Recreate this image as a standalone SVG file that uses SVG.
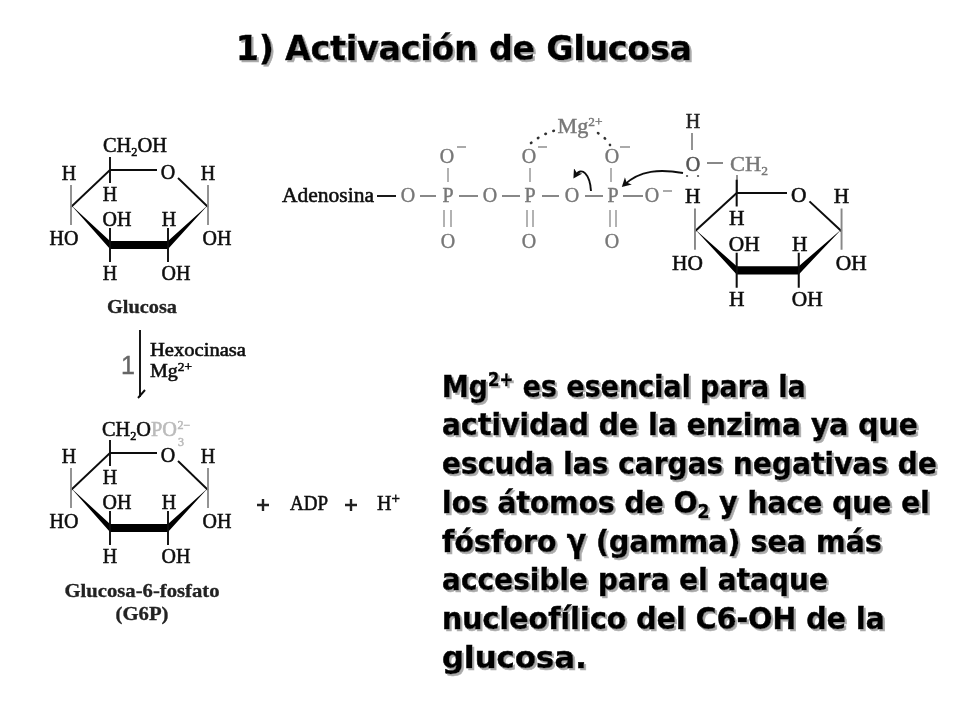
<svg xmlns="http://www.w3.org/2000/svg" xmlns:xlink="http://www.w3.org/1999/xlink" width="960" height="720" viewBox="0 0 960 720">
<style>
.chem{font-family:"Liberation Serif","Times New Roman",serif;font-size:20px;fill:#111;stroke:#111;stroke-width:.55;text-anchor:middle}
.g{fill:#777;stroke:#777;stroke-width:.4}
.lbl{font-family:"Liberation Serif",serif;font-weight:bold;font-size:19px;fill:#222;stroke:#222;stroke-width:.3;text-anchor:middle}
.big{font-family:"DejaVu Sans Condensed","DejaVu Sans",sans-serif;font-weight:bold;font-size:31px;fill:#000;stroke:#000;stroke-width:.5}
.title{font-size:33px}
.sm{font-size:19px}
.b{stroke:#111;stroke-width:1.9;fill:none}
.gb{stroke:#888;stroke-width:1.8;fill:none}
.lb{stroke:#aaa;stroke-width:1.8;fill:none}
</style>
<defs>
<filter id="soft" x="-5%" y="-5%" width="110%" height="110%"><feGaussianBlur stdDeviation="0.5"/></filter>
<filter id="shadow" x="-3%" y="-10%" width="106%" height="125%"><feDropShadow dx="2" dy="2" stdDeviation="0.7" flood-color="#aaa"/></filter>
<marker id="hook" markerWidth="11" markerHeight="11" refX="6" refY="5" orient="auto-start-reverse" markerUnits="userSpaceOnUse"><path d="M0 0L9 5L0 10L2.5 5Z" fill="#111"/></marker>
<g id="ring">
<path class="b" d="M71 207L110 170H157M178 178L208 207"/>
<path d="M71 205L110 241L168 241L208 205L168 249L110 249Z" fill="#000"/>
<path class="gb" d="M71 185V225M208 185V225"/>
<path class="b" d="M110 157V183M110 228V262M168 228V262"/>
<text class="chem" x="69" y="180">H</text>
<text class="chem" x="168" y="179">O</text>
<text class="chem" x="208" y="180">H</text>
<text class="chem" x="110" y="201">H</text>
<text class="chem" x="117" y="226">OH</text>
<text class="chem" x="169" y="226">H</text>
<text class="chem" x="64" y="245">HO</text>
<text class="chem" x="217" y="245">OH</text>
<text class="chem" x="110" y="280">H</text>
<text class="chem" x="176" y="280">OH</text>
</g>
</defs>
<rect width="960" height="720" fill="#fff"/>
<text id="title" class="big title" x="236" y="60" textLength="456" lengthAdjust="spacingAndGlyphs" filter="url(#shadow)">1) Activación de Glucosa</text>
<g id="connectors" filter="url(#soft)">
<path class="b" d="M377 196H396" />
<path class="gb" d="M420 196H436M459 196H478M502 196H520M542 196H559M585 196H603M623 196H643"/>
<path class="lb" d="M448 168V182M444 210V227M451 210V227M530 168V182M527 210V227M533 210V227M611 168V182M610 210V227M616 210V227"/>
<path class="gb" d="M692 133V150M707 163H723M737 175V193"/>
<path d="M531 143Q545 132 558 130M598 133Q606 138 610 145" fill="none" stroke="#333" stroke-width="2.6" stroke-dasharray="0.5 8" stroke-linecap="round"/>
<path class="b" d="M591 191C590 175 582 165 575 176" stroke-width="2.4" marker-end="url(#hook)"/>
<path class="b" d="M683 173C660 169 640 170 624 185" stroke-width="2.4" marker-end="url(#hook)"/>
<path d="M687 176h.1M698 176h.1" stroke="#555" stroke-width="2.2" stroke-linecap="round"/>
<path class="b" d="M140 330V397M138 398L145 390"/>
</g>
<g id="glucosa" filter="url(#soft)">
<use xlink:href="#ring" href="#ring"/>
<text class="chem" x="135" y="152" textLength="64" lengthAdjust="spacingAndGlyphs">CH<tspan font-size="12" dy="4">2</tspan><tspan dy="-4">OH</tspan></text>
<text class="lbl" x="142" y="313" textLength="70" lengthAdjust="spacingAndGlyphs">Glucosa</text>
</g>
<g id="atp" filter="url(#soft)">
<text class="chem" x="328" y="202" textLength="92" lengthAdjust="spacingAndGlyphs">Adenosina</text>
<text class="chem g" x="408" y="202">O</text>
<text class="chem g" x="448" y="202">P</text>
<text class="chem g" x="490" y="202">O</text>
<text class="chem g" x="530" y="202">P</text>
<text class="chem g" x="572" y="202">O</text>
<text class="chem g" x="613" y="202">P</text>
<text class="chem g" x="652" y="202">O</text>
<text class="chem g" x="447" y="163">O</text>
<text class="chem g" x="529" y="163">O</text>
<text class="chem g" x="612" y="163">O</text>
<text class="chem g" x="448" y="248">O</text>
<text class="chem g" x="529" y="248">O</text>
<text class="chem g" x="612" y="248">O</text>
<path class="lb" d="M457 147H466M538 147H547M620 147H630M663 191H672"/>
<text class="chem g" x="580" y="133" textLength="45" lengthAdjust="spacingAndGlyphs">Mg<tspan font-size="12" dy="-7">2+</tspan></text>
</g>
<g id="ribose" filter="url(#soft)">
<text class="chem" x="693" y="128" style="fill:#222;stroke:#222">H</text>
<text class="chem" x="693" y="171" style="fill:#555;stroke:#555">O</text>
<text class="chem g" x="749" y="171" textLength="38" lengthAdjust="spacingAndGlyphs">CH<tspan font-size="12" dy="4">2</tspan></text>
<use xlink:href="#ring" href="#ring" transform="translate(619 18) scale(1.07 1.03)"/>
</g>
<g id="enzima" filter="url(#soft)">
<text x="128" y="374" font-family="Liberation Sans,sans-serif" font-size="25" fill="#666" stroke="#666" stroke-width=".4" text-anchor="middle">1</text>
<text class="chem" style="text-anchor:start;font-size:18px" x="150" y="356" textLength="96" lengthAdjust="spacingAndGlyphs">Hexocinasa</text>
<text class="chem" style="text-anchor:start;font-size:18px" x="150" y="377" textLength="42" lengthAdjust="spacingAndGlyphs">Mg<tspan font-size="12" dy="-6">2+</tspan></text>
</g>
<g id="g6p" filter="url(#soft)">
<use xlink:href="#ring" href="#ring" transform="translate(0 283)"/>
<text class="chem" style="text-anchor:start" x="102" y="436" textLength="49" lengthAdjust="spacingAndGlyphs">CH<tspan font-size="12" dy="4">2</tspan><tspan dy="-4">O</tspan></text>
<text class="chem" style="text-anchor:start;fill:#bbb;stroke:#bbb" x="151" y="436" textLength="26" lengthAdjust="spacingAndGlyphs">PO</text>
<text class="chem" style="fill:#bbb;stroke:#bbb;font-size:12px" x="184" y="429">2−</text>
<text class="chem" style="fill:#bbb;stroke:#bbb;font-size:12px" x="181" y="446">3</text>
<text class="lbl" x="142" y="597" textLength="155" lengthAdjust="spacingAndGlyphs">Glucosa-6-fosfato</text>
<text class="lbl" x="142" y="620" textLength="53" lengthAdjust="spacingAndGlyphs">(G6P)</text>
</g>
<g id="productos" filter="url(#soft)">
<path d="M257 505H269M263 499V511M345 505H357M351 499V511" stroke="#222" stroke-width="2.4"/>
<text class="chem" x="309" y="510" textLength="38" lengthAdjust="spacingAndGlyphs">ADP</text>
<text class="chem" style="text-anchor:start" x="377" y="510">H<tspan font-size="15" dy="-7">+</tspan></text>
</g>
<g id="explicacion" filter="url(#shadow)">
<text class="big" x="442" y="397" textLength="364" lengthAdjust="spacingAndGlyphs">Mg<tspan class="sm" dy="-11">2+</tspan><tspan dy="11"> es esencial para la</tspan></text>
<text class="big" x="442" y="435" textLength="476" lengthAdjust="spacingAndGlyphs">actividad de la enzima ya que</text>
<text class="big" x="442" y="474" textLength="495" lengthAdjust="spacingAndGlyphs">escuda las cargas negativas de</text>
<text class="big" x="442" y="513" textLength="488" lengthAdjust="spacingAndGlyphs">los átomos de O<tspan class="sm" dy="5">2</tspan><tspan dy="-5"> y hace que el</tspan></text>
<text class="big" x="442" y="552" textLength="440" lengthAdjust="spacingAndGlyphs">fósforo γ (gamma) sea más</text>
<text class="big" x="442" y="590" textLength="386" lengthAdjust="spacingAndGlyphs">accesible para el ataque</text>
<text class="big" x="442" y="629" textLength="443" lengthAdjust="spacingAndGlyphs">nucleofílico del C6-OH de la</text>
<text class="big" x="442" y="668" textLength="145" lengthAdjust="spacingAndGlyphs">glucosa.</text>
</g>
</svg>
